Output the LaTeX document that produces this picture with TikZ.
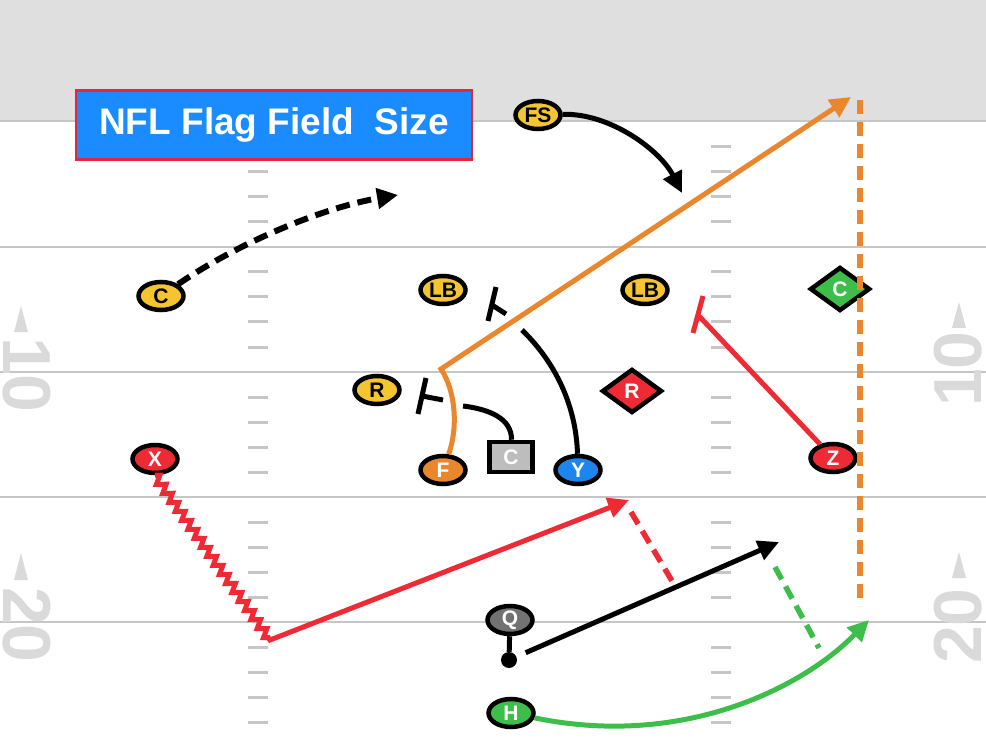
\documentclass[tikz,border=0pt]{standalone}
\usepackage{fontspec}
\setmainfont{Liberation Sans}
\usepackage{tikz}
\usetikzlibrary{arrows.meta,shapes.geometric,decorations.pathmorphing}
\definecolor{band}{HTML}{DFDFDF}
\definecolor{yardln}{HTML}{C6C6C6}
\definecolor{numgray}{HTML}{DADADA}
\definecolor{ttlblue}{HTML}{1A8CFF}
\definecolor{ttlred}{HTML}{E2263B}
\definecolor{gold}{HTML}{F4C431}
\definecolor{fred}{HTML}{EE2A35}
\definecolor{forange}{HTML}{EA862C}
\definecolor{fblue}{HTML}{1C86EE}
\definecolor{fgreen}{HTML}{3DBE4B}
\definecolor{boxgray}{HTML}{BDBDBD}
\definecolor{qgray}{HTML}{727272}
\tikzset{
  yard/.style={draw=yardln, line width=2.5pt},
  hash/.style={draw=yardln, line width=3pt},
  num/.style={text=numgray, inner sep=0pt, font=\fontsize{68}{68}\selectfont\bfseries},
  ttl/.style={fill=ttlblue, draw=ttlred, line width=2.5pt, minimum width=396pt, minimum height=69pt,
    inner sep=0pt, text=white, font=\fontsize{37}{37}\selectfont\bfseries},
  plr/.style={ellipse, draw=black, line width=4.5pt, minimum width=45pt, minimum height=28pt,
    inner sep=0pt, text=white, font=\fontsize{21}{21}\selectfont\bfseries},
  dplr/.style={plr, fill=gold, text=black},
  cbox/.style={plr, rectangle, fill=boxgray, minimum width=43pt, minimum height=30pt},
  dmd/.style={plr, diamond, minimum width=60pt, minimum height=44pt},
  rte/.style={draw=black, line width=5pt},
  opt/.style={rte, line width=5.5pt, dash pattern=on 14pt off 8pt},
  zz/.style={decoration={zigzag, amplitude=4pt, segment length=11pt}},
  >={Triangle[length=21pt, width=20pt]},
}
\begin{document}
\begin{tikzpicture}[x=1pt, y=-1pt]
  \useasboundingbox (0,0) rectangle (986,746);
  \clip (0,0) rectangle (986,746);
  \fill[band] (0,0) rectangle (986,121);
  \foreach \yy in {121,247,372,497,622}
    \draw[yard] (0,\yy) -- (986,\yy);
  \foreach \yy in {147,172,197,222,272,297,322,347,397,422,447,472,522,547,572,597,647,672,697,722}{
    \draw[hash] (248,\yy) -- (268,\yy);
    \draw[hash] (711,\yy) -- (731,\yy);
  }

  \node[num, rotate=-90] (n10l) at (27,375) {10};
  \node[num, rotate=-90] (n20l) at (27,625) {20};
  \node[num, rotate=90] (n10r) at (958,369) {10};
  \node[num, rotate=90] (n20r) at (958,626) {20};
  \fill[numgray] (21,306) -- (28,332) -- (14,332) -- cycle;
  \fill[numgray] (21,553) -- (28,580) -- (14,580) -- cycle;
  \fill[numgray] (959,302) -- (966,328) -- (952,328) -- cycle;
  \fill[numgray] (959,552) -- (966,578) -- (952,578) -- cycle;

  \node[ttl] (title) at (274,125) {NFL Flag Field\ \ Size};

  \coordinate (cbtip) at (398,195);
  \coordinate (fstip) at (682,193);
  \coordinate (fk) at (441,369);
  \coordinate (ftip) at (851,97);
  \coordinate (otop) at (860,100);
  \coordinate (obot) at (860,606);
  \coordinate (yk) at (522,330);
  \coordinate (ys1) at (506,314);
  \coordinate (ys2) at (492,305);
  \coordinate (yb1) at (488,321);
  \coordinate (yb2) at (496,287);
  \coordinate (ck) at (463,406);
  \coordinate (cs1) at (443,400);
  \coordinate (cs2) at (422,396);
  \coordinate (cb1) at (418,414);
  \coordinate (cb2) at (426,378);
  \coordinate (zk) at (698,315);
  \coordinate (zb1) at (703,296);
  \coordinate (zb2) at (693,333);
  \coordinate (xk) at (270,640);
  \coordinate (xtip) at (629,500);
  \coordinate (xo1) at (631,512);
  \coordinate (xo2) at (675,586);
  \coordinate (qtip) at (779,542);
  \coordinate (ho1) at (775,567);
  \coordinate (ho2) at (819,648);
  \coordinate (htip) at (869,620);

  \node[dplr] (fs) at (538,115) {FS};
  \node[dplr] (cb) at (161,296) {C};
  \node[dplr] (lbl) at (443,290) {LB};
  \node[dplr] (lbr) at (645,290) {LB};
  \node[dplr] (rv) at (377,390) {R};
  \node[plr, fill=fred] (x) at (155,459) {X};
  \node[plr, fill=forange] (f) at (443,470) {F};
  \node[cbox] (c) at (511,457) {C};
  \node[plr, fill=fblue] (y) at (578,470) {Y};
  \node[dmd, fill=fred] (rd) at (632,391) {R};
  \node[dmd, fill=fgreen] (cd) at (840,289) {C};
  \node[plr, fill=fred] (z) at (833,458) {Z};
  \node[plr, fill=qgray] (q) at (510,620) {Q};
  \node[circle, fill=black, minimum size=16pt, inner sep=0pt] (qd) at (509,660) {};
  \node[plr, fill=fgreen] (h) at (511,713) {H};

  \draw[opt, line width=6pt, ->] (cb) .. controls (235,245) and (320,208) .. (cbtip);
  \draw[rte, ->] (fs) .. controls (610,113) and (660,150) .. (fstip);
  \draw[rte, draw=forange, ->] (f) .. controls (458,428) and (456,392) .. (fk) -- (ftip);
  \draw[opt, draw=forange] (otop) -- (obot);
  \draw[rte] (y) .. controls (576,405) and (555,362) .. (yk);
  \draw[rte] (ys1) -- (ys2) (yb1) -- (yb2);
  \draw[rte] (c) .. controls (512,418) and (488,409) .. (ck);
  \draw[rte] (cs1) -- (cs2) (cb1) -- (cb2);
  \draw[rte, draw=fred] (z) -- (zk) (zb1) -- (zb2);
  \draw[rte, draw=fred, ->] (x.south) decorate[zz] {-- (xk)} -- (xtip);
  \draw[opt, draw=fred] (xo1) -- (xo2);
  \draw[rte] (q) -- (qd);
  \draw[rte, ->, shorten <=10pt] (qd) -- (qtip);
  \draw[opt, draw=fgreen] (ho1) -- (ho2);
  \draw[rte, draw=fgreen, ->] (h) .. controls (680,748) and (800,690) .. (htip);
\end{tikzpicture}
\end{document}
